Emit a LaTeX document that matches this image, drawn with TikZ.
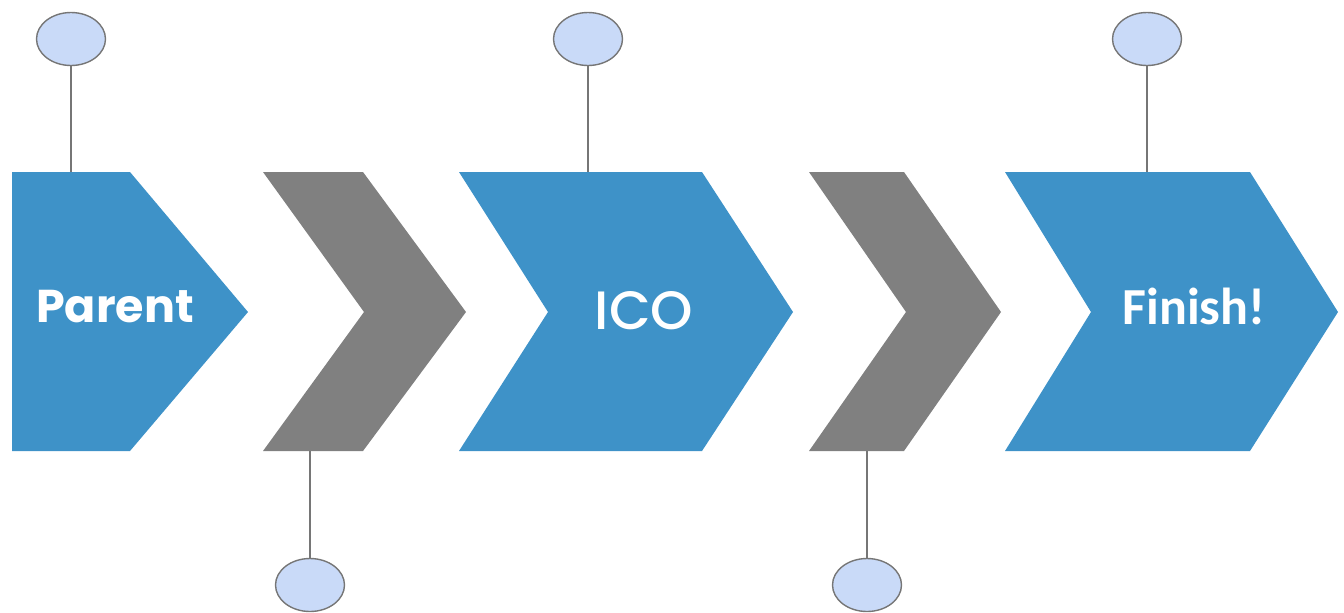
\documentclass[tikz,border=0pt]{standalone}
\usepackage{fontspec}
\newfontfamily\gothicfont{Poppins}
\newfontfamily\gothicmedfont{Poppins Medium}
\newfontfamily\calibfont{Carlito}
\usepackage{xcolor}
\usetikzlibrary{shapes.geometric, positioning}

\definecolor{stepblue}{RGB}{62,146,200}
\definecolor{stepgray}{RGB}{128,128,128}
\definecolor{dotfill}{RGB}{201,218,248}
\definecolor{dotline}{RGB}{118,118,118}

\begin{document}
\begin{tikzpicture}[
    x=0.5pt, y=-0.5pt,
    dot/.style={ellipse, draw=dotline, fill=dotfill, line width=0.7pt, inner sep=0pt, minimum width=34.5pt, minimum height=26.5pt},
    stem/.style={draw=dotline, line width=0.7pt},
    steplabel/.style={text=white, inner sep=0pt, anchor=center}
]
\useasboundingbox (0,0) rectangle (1344,612);

% --- Steps ---
\fill[stepblue] (12,172) -- (130,172) -- (248,312) -- (130,451) -- (12,451) -- cycle;
\fill[stepgray] (263,172) -- (363,172) -- (466,312) -- (363,451) -- (263,451) -- (364,312) -- cycle;
\fill[stepblue] (459,172) -- (702,172) -- (793,312) -- (702,451) -- (459,451) -- (548,312) -- cycle;
\fill[stepgray] (809,172) -- (904,172) -- (1001,312) -- (904,451) -- (809,451) -- (906,312) -- cycle;
\fill[stepblue] (1005,172) -- (1250,172) -- (1338,312) -- (1250,451) -- (1005,451) -- (1091,312) -- cycle;

% --- Labels ---
\node[steplabel, font=\gothicfont\bfseries\fontsize{23}{28}\selectfont] (parent) at (115,307) {Parent};
\node[steplabel, font=\gothicmedfont\fontsize{27}{32}\selectfont] (ico) at (644,311) {ICO};
\node[steplabel, font=\calibfont\bfseries\fontsize{26}{31}\selectfont] (finish) at (1194,306) {Finish!};

% --- Markers ---
\node[dot] (top1) at (71,39) {};
\node[dot] (top2) at (588,39) {};
\node[dot] (top3) at (1147,39) {};
\node[dot] (bot1) at (310,585) {};
\node[dot] (bot2) at (867,585) {};

\coordinate (edge1) at (71,172);
\coordinate (edge2) at (588,172);
\coordinate (edge3) at (1147,172);
\coordinate (edge4) at (310,451);
\coordinate (edge5) at (867,451);

% --- Stems ---
\draw[stem] (top1.south) -- (edge1);
\draw[stem] (top2.south) -- (edge2);
\draw[stem] (top3.south) -- (edge3);
\draw[stem] (bot1.north) -- (edge4);
\draw[stem] (bot2.north) -- (edge5);

\end{tikzpicture}
\end{document}
